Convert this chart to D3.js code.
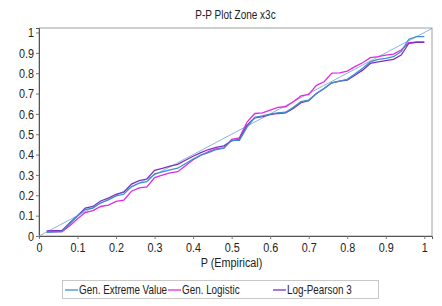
<!DOCTYPE html>
<html><head><meta charset="utf-8">
<script src="https://cdn.jsdelivr.net/npm/d3@7"></script>
<style>body{margin:0;background:#fff}svg{display:block}text{font-family:"Liberation Sans",Arial,sans-serif}</style>
</head><body><svg id="c" width="442" height="306"></svg>
<script>
const title = "P-P Plot Zone x3c";
const xLabel = "P (Empirical)";
const seriesNames = ["Gen. Extreme Value", "Gen. Logistic", "Log-Pearson 3"];
const seriesColors = ["#3b8fcf", "#e22be2", "#7f2fc0"];
const pEmp = [0.02,0.04,0.06,0.08,0.10,0.12,0.14,0.16,0.18,0.20,0.22,0.24,0.26,0.28,0.30,0.32,0.34,0.36,0.38,0.40,0.42,0.44,0.46,0.48,0.50,0.52,0.54,0.56,0.58,0.60,0.62,0.64,0.66,0.68,0.70,0.72,0.74,0.76,0.78,0.80,0.82,0.84,0.86,0.88,0.90,0.92,0.94,0.96,0.98,1.00];
const gev = [0.018,0.02,0.022,0.06,0.098,0.13,0.137,0.163,0.177,0.197,0.205,0.243,0.26,0.267,0.305,0.315,0.325,0.333,0.355,0.378,0.397,0.41,0.425,0.432,0.47,0.47,0.535,0.583,0.59,0.599,0.605,0.608,0.632,0.66,0.668,0.70,0.725,0.753,0.761,0.77,0.796,0.824,0.856,0.868,0.873,0.881,0.906,0.967,0.98,0.98];
const glo = [0.02,0.021,0.022,0.05,0.085,0.115,0.125,0.145,0.152,0.17,0.176,0.22,0.236,0.241,0.287,0.299,0.31,0.316,0.345,0.375,0.397,0.415,0.428,0.433,0.475,0.482,0.56,0.602,0.605,0.619,0.632,0.635,0.66,0.688,0.696,0.74,0.758,0.80,0.802,0.81,0.832,0.851,0.876,0.881,0.889,0.894,0.914,0.95,0.952,0.952];
const lp3 = [0.025,0.026,0.027,0.065,0.10,0.137,0.145,0.172,0.186,0.205,0.215,0.255,0.272,0.28,0.323,0.332,0.343,0.352,0.372,0.392,0.41,0.425,0.436,0.443,0.468,0.475,0.545,0.58,0.587,0.596,0.602,0.605,0.627,0.655,0.665,0.70,0.725,0.753,0.761,0.766,0.79,0.815,0.848,0.856,0.862,0.868,0.889,0.947,0.952,0.952];
const tickVals = [0,0.1,0.2,0.3,0.4,0.5,0.6,0.7,0.8,0.9,1];
const tickLabels = ["0","0.1","0.2","0.3","0.4","0.5","0.6","0.7","0.8","0.9","1"];
const diag = [0, 1.02];

const L=39,R=432,T=28,B=236;
const NARROW=0.8;
const svg=d3.select("#c");
const x=d3.scaleLinear().domain([0,1.02]).range([L,R]);
const y=d3.scaleLinear().domain([0,1.022]).range([B,T]);

svg.append("text").attr("x",(L+R)/2).attr("y",19).attr("text-anchor","middle").attr("font-size",12.5).attr("fill","#222").text(title);

svg.append("rect").attr("x",L).attr("y",T).attr("width",R-L).attr("height",B-T).attr("fill","none").attr("stroke","#a0a0a0").attr("stroke-width",1);

const fmt=(d)=>tickLabels[tickVals.indexOf(d)];
const xa=svg.append("g").attr("transform",`translate(0,${B})`).call(d3.axisBottom(x).tickValues(tickVals).tickFormat(fmt).tickSize(3).tickPadding(3));
const ya=svg.append("g").attr("transform",`translate(${L},0)`).call(d3.axisLeft(y).tickValues(tickVals).tickFormat(fmt).tickSize(3).tickPadding(2));
[xa,ya].forEach(a=>{a.select(".domain").attr("stroke","#555");a.selectAll(".tick line").attr("stroke","#777");a.selectAll("text").attr("font-size",13.5).attr("fill","#222").attr("font-family",'"Liberation Sans",Arial,sans-serif');});

const line=d3.line().x(d=>x(d[0])).y(d=>y(d[1]));
svg.append("path").attr("d",line(diag.map(v=>[v,v]))).attr("fill","none").attr("stroke","#6f9fd8").attr("stroke-width",0.8);

const allSeries=[gev,glo,lp3];
[1,2,0].forEach(i=>{
  svg.append("path").attr("d",line(pEmp.map((p,j)=>[p,allSeries[i][j]]))).attr("fill","none").attr("stroke",seriesColors[i]).attr("stroke-width",1.3);
});

svg.append("text").attr("x",(L+R)/2-4).attr("y",267).attr("text-anchor","middle").attr("font-size",13.5).attr("fill","#222").text(xLabel);

svg.append("rect").attr("x",62.5).attr("y",280.5).attr("width",316).attr("height",18).attr("fill","#fff").attr("stroke","#c8c8c8");
const lx=[65,168,273];
seriesNames.forEach((n,i)=>{
  svg.append("line").attr("x1",lx[i]).attr("x2",lx[i]+13).attr("y1",290).attr("y2",290).attr("stroke",seriesColors[i]).attr("stroke-width",1.3);
  svg.append("text").attr("class","leg").attr("x",lx[i]+14).attr("y",294.5).attr("font-size",13).attr("fill","#222").text(n);
});

// condense text horizontally about its anchor point
svg.selectAll("text").each(function(){
  const t=d3.select(this);
  const f=t.classed("leg")?0.76:NARROW;
  const x0=+(t.attr("x")||0);
  t.attr("transform",`translate(${x0},0) scale(${f},1) translate(${-x0},0)`);
});
</script></body></html>
